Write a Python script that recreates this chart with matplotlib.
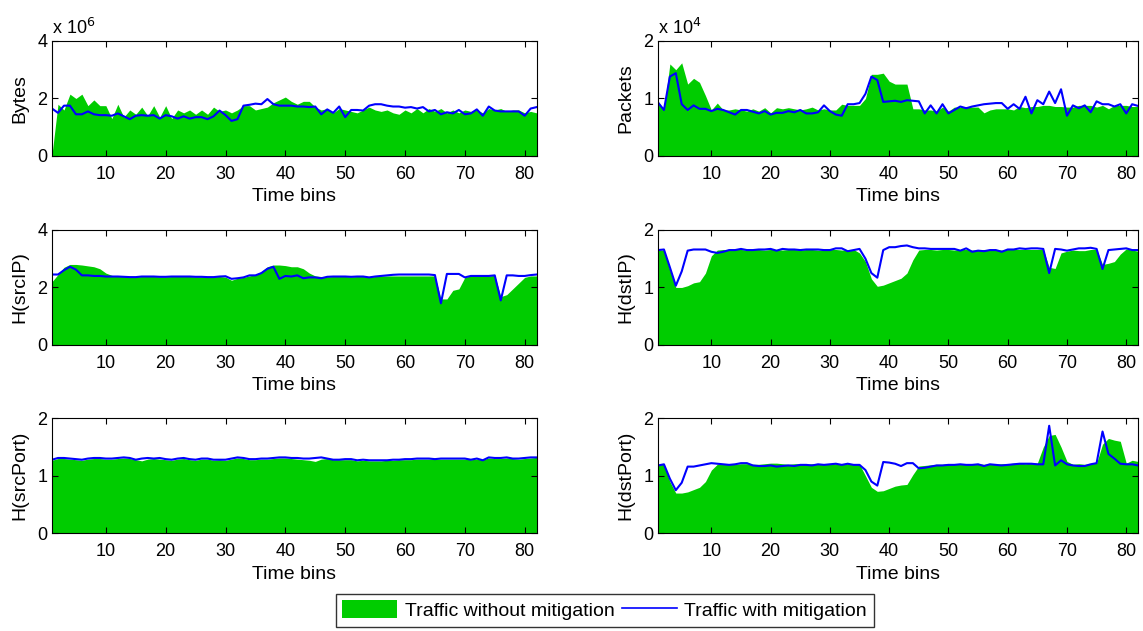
import numpy as np
import matplotlib
matplotlib.use("Agg")
import matplotlib.pyplot as plt
from matplotlib.patches import Patch
from matplotlib.lines import Line2D

plt.rcParams['font.family'] = ['Liberation Sans', 'DejaVu Sans']
plt.rcParams['font.size'] = 14

# values, one per time bin (1..82)
bytes_without = [0.05, 1.8, 1.6, 2.15, 2.0, 2.15, 1.75, 1.95, 1.75, 1.75,
                 1.3, 1.8, 1.35, 1.6, 1.45, 1.7, 1.4, 1.75, 1.35, 1.75,
                 1.3, 1.6, 1.5, 1.6, 1.45, 1.6, 1.45, 1.7, 1.55, 1.6,
                 1.5, 1.6, 1.75, 1.75, 1.6, 1.65, 1.7, 1.85, 1.95, 2.05,
                 1.9, 1.8, 1.9, 1.9, 1.7, 1.6, 1.65, 1.5, 1.65, 1.6,
                 1.55, 1.5, 1.6, 1.7, 1.6, 1.55, 1.6, 1.5, 1.45, 1.6,
                 1.5, 1.65, 1.5, 1.65, 1.55, 1.65, 1.5, 1.6, 1.5, 1.6,
                 1.55, 1.6, 1.5, 1.65, 1.6, 1.65, 1.55, 1.6, 1.6, 1.5,
                 1.55, 1.5]
bytes_with = [1.65, 1.5, 1.75, 1.75, 1.45, 1.45, 1.55, 1.45, 1.42, 1.42,
              1.4, 1.48, 1.38, 1.28, 1.4, 1.42, 1.4, 1.42, 1.3, 1.42,
              1.38, 1.3, 1.38, 1.3, 1.35, 1.35, 1.28, 1.38, 1.58, 1.42,
              1.22, 1.28, 1.75, 1.78, 1.82, 1.8, 1.98, 1.8, 1.75, 1.75,
              1.75, 1.72, 1.72, 1.7, 1.72, 1.45, 1.62, 1.5, 1.72, 1.35,
              1.6, 1.6, 1.58, 1.75, 1.8, 1.8, 1.75, 1.72, 1.72, 1.68,
              1.7, 1.65, 1.7, 1.55, 1.6, 1.45, 1.52, 1.48, 1.6, 1.45,
              1.48, 1.62, 1.4, 1.72, 1.58, 1.55, 1.55, 1.55, 1.55, 1.4,
              1.65, 1.7]

packets_without = [0.95, 0.8, 1.6, 1.5, 1.62, 1.25, 1.35, 1.28, 1.05, 0.8,
                   0.92, 0.8, 0.8, 0.82, 0.8, 0.78, 0.82, 0.78, 0.84, 0.75,
                   0.84, 0.82, 0.84, 0.82, 0.8, 0.82, 0.85, 0.8, 0.82, 0.8,
                   0.8, 0.9, 0.88, 0.88, 0.88, 1.0, 1.42, 1.42, 1.44, 1.3,
                   1.25, 1.25, 1.25, 0.82, 0.82, 0.8, 0.8, 0.78, 0.85, 0.78,
                   0.85, 0.85, 0.86, 0.85, 0.85, 0.75, 0.8, 0.82, 0.82, 0.82,
                   0.8, 0.86, 0.84, 0.86, 0.86, 0.88, 0.88, 0.86, 0.86, 0.85,
                   0.85, 0.88, 0.88, 0.88, 0.85, 0.88, 0.82, 0.88, 0.88, 0.88,
                   0.86, 0.86]
packets_with = [0.93, 0.8, 1.38, 1.44, 0.9, 0.8, 0.88, 0.82, 0.82, 0.78,
                0.82, 0.8, 0.76, 0.72, 0.8, 0.8, 0.77, 0.74, 0.78, 0.72,
                0.75, 0.75, 0.78, 0.76, 0.8, 0.74, 0.74, 0.76, 0.88, 0.78,
                0.72, 0.7, 0.9, 0.9, 0.92, 1.08, 1.38, 1.32, 0.94, 0.95,
                0.96, 0.94, 0.97, 0.96, 0.95, 0.74, 0.88, 0.74, 0.9, 0.74,
                0.8, 0.86, 0.83, 0.86, 0.88, 0.9, 0.91, 0.92, 0.92, 0.82,
                0.9, 0.82, 1.03, 0.74, 0.97, 0.9, 1.12, 0.92, 1.16, 0.7,
                0.88, 0.83, 0.88, 0.76, 0.95, 0.9, 0.9, 0.86, 0.9, 0.74,
                0.9, 0.87]

srcip_without = [2.2, 2.45, 2.7, 2.8, 2.8, 2.78, 2.75, 2.72, 2.65, 2.5,
                 2.42, 2.38, 2.38, 2.37, 2.37, 2.38, 2.38, 2.38, 2.37, 2.37,
                 2.38, 2.38, 2.38, 2.38, 2.37, 2.37, 2.37, 2.37, 2.38, 2.36,
                 2.25, 2.32, 2.35, 2.4, 2.45, 2.55, 2.72, 2.78, 2.78, 2.76,
                 2.72, 2.72, 2.65, 2.5, 2.4, 2.38, 2.37, 2.38, 2.38, 2.38,
                 2.37, 2.38, 2.38, 2.36, 2.38, 2.4, 2.4, 2.4, 2.4, 2.4,
                 2.4, 2.4, 2.4, 2.4, 2.4, 1.6, 1.6, 1.9, 1.95, 2.35,
                 2.4, 2.4, 2.4, 2.4, 2.42, 1.68, 1.75, 1.95, 2.15, 2.35,
                 2.4, 2.4]
srcip_with = [2.45, 2.45, 2.6, 2.72, 2.62, 2.42, 2.42, 2.4, 2.4, 2.38,
              2.38, 2.38, 2.37, 2.36, 2.36, 2.38, 2.38, 2.38, 2.37, 2.37,
              2.38, 2.38, 2.38, 2.38, 2.37, 2.37, 2.36, 2.36, 2.38, 2.39,
              2.3, 2.32, 2.35, 2.42, 2.42, 2.5, 2.65, 2.72, 2.3, 2.4,
              2.38, 2.42, 2.32, 2.35, 2.35, 2.32, 2.37, 2.38, 2.38, 2.38,
              2.37, 2.38, 2.38, 2.35, 2.38, 2.4, 2.42, 2.44, 2.45, 2.45,
              2.45, 2.45, 2.45, 2.45, 2.43, 1.45, 2.47, 2.47, 2.47, 2.35,
              2.4, 2.4, 2.4, 2.4, 2.42, 1.55, 2.42, 2.42, 2.4, 2.4,
              2.43, 2.45]

dstip_without = [1.65, 1.65, 1.3, 1.0, 1.0, 1.03, 1.08, 1.1, 1.25, 1.55,
                 1.65, 1.66, 1.65, 1.66, 1.66, 1.65, 1.66, 1.66, 1.65, 1.66,
                 1.66, 1.65, 1.66, 1.66, 1.65, 1.66, 1.66, 1.65, 1.65, 1.66,
                 1.66, 1.65, 1.65, 1.66, 1.6, 1.45, 1.15, 1.02, 1.04, 1.08,
                 1.12, 1.16, 1.25, 1.48, 1.65, 1.66, 1.66, 1.65, 1.66, 1.66,
                 1.65, 1.66, 1.66, 1.65, 1.65, 1.66, 1.66, 1.66, 1.65, 1.66,
                 1.66, 1.66, 1.66, 1.66, 1.66, 1.66, 1.35, 1.33, 1.6, 1.63,
                 1.65, 1.64, 1.64, 1.66, 1.66, 1.4, 1.42, 1.45, 1.58, 1.67,
                 1.65, 1.63]
dstip_with = [1.65, 1.66, 1.35, 1.03, 1.28, 1.64, 1.66, 1.66, 1.66, 1.62,
              1.6, 1.62, 1.65, 1.65, 1.67, 1.65, 1.65, 1.66, 1.66, 1.67,
              1.64, 1.67, 1.66, 1.66, 1.65, 1.66, 1.66, 1.66, 1.65, 1.65,
              1.68, 1.68, 1.63, 1.65, 1.67, 1.5, 1.25, 1.17, 1.65, 1.7,
              1.7, 1.72, 1.73, 1.7, 1.68, 1.68, 1.67, 1.67, 1.67, 1.67,
              1.67, 1.64, 1.68, 1.62, 1.64, 1.63, 1.65, 1.65, 1.62, 1.66,
              1.66, 1.68, 1.67, 1.68, 1.68, 1.67, 1.25, 1.67, 1.66, 1.64,
              1.66, 1.68, 1.68, 1.69, 1.67, 1.32, 1.65, 1.66, 1.67, 1.68,
              1.65, 1.65]

srcport_without = [1.27, 1.3, 1.3, 1.29, 1.28, 1.27, 1.29, 1.3, 1.3, 1.29,
                   1.29, 1.3, 1.31, 1.3, 1.28, 1.26, 1.29, 1.3, 1.29, 1.28,
                   1.27, 1.29, 1.3, 1.28, 1.27, 1.29, 1.29, 1.27, 1.28, 1.27,
                   1.29, 1.31, 1.3, 1.28, 1.28, 1.29, 1.29, 1.3, 1.31, 1.31,
                   1.3, 1.29, 1.28, 1.27, 1.25, 1.29, 1.3, 1.28, 1.28, 1.28,
                   1.28, 1.26, 1.27, 1.26, 1.26, 1.26, 1.27, 1.27, 1.28, 1.28,
                   1.28, 1.29, 1.29, 1.29, 1.29, 1.29, 1.29, 1.29, 1.29, 1.29,
                   1.28, 1.29, 1.28, 1.31, 1.3, 1.3, 1.31, 1.3, 1.29, 1.3,
                   1.31, 1.32]
srcport_with = [1.28, 1.31, 1.31, 1.3, 1.29, 1.28, 1.3, 1.31, 1.31, 1.3,
                1.3, 1.31, 1.32, 1.31, 1.28, 1.3, 1.31, 1.3, 1.31, 1.29,
                1.28, 1.3, 1.31, 1.29, 1.28, 1.3, 1.3, 1.28, 1.28, 1.28,
                1.3, 1.32, 1.31, 1.29, 1.29, 1.3, 1.3, 1.31, 1.32, 1.32,
                1.31, 1.31, 1.3, 1.3, 1.31, 1.32, 1.3, 1.28, 1.28, 1.29,
                1.29, 1.27, 1.28, 1.27, 1.27, 1.27, 1.27, 1.28, 1.28, 1.29,
                1.29, 1.3, 1.3, 1.3, 1.29, 1.3, 1.3, 1.3, 1.3, 1.3,
                1.28, 1.3, 1.27, 1.32, 1.31, 1.31, 1.32, 1.3, 1.3, 1.31,
                1.32, 1.32]

dstport_without = [1.2, 1.2, 0.9, 0.7, 0.7, 0.72, 0.76, 0.8, 0.9, 1.1,
                   1.2, 1.21, 1.21, 1.2, 1.21, 1.21, 1.2, 1.2, 1.21, 1.22,
                   1.22, 1.21, 1.2, 1.21, 1.21, 1.2, 1.21, 1.21, 1.2, 1.21,
                   1.21, 1.2, 1.21, 1.21, 1.2, 1.0, 0.8, 0.73, 0.74, 0.78,
                   0.82, 0.84, 0.85, 1.02, 1.17, 1.18, 1.19, 1.2, 1.2, 1.21,
                   1.2, 1.2, 1.21, 1.2, 1.21, 1.2, 1.21, 1.2, 1.21, 1.21,
                   1.22, 1.22, 1.21, 1.22, 1.22, 1.5, 1.7, 1.72, 1.5, 1.25,
                   1.2, 1.21, 1.2, 1.21, 1.22, 1.55, 1.65, 1.62, 1.6, 1.22,
                   1.27, 1.25]
dstport_with = [1.18, 1.2, 0.95, 0.75, 0.88, 1.16, 1.16, 1.18, 1.2, 1.22,
                1.21, 1.2, 1.19, 1.2, 1.22, 1.22, 1.18, 1.17, 1.17, 1.18,
                1.16, 1.17, 1.18, 1.17, 1.19, 1.19, 1.18, 1.2, 1.19, 1.2,
                1.21, 1.19, 1.21, 1.19, 1.19, 1.1, 0.9, 0.83, 1.24, 1.23,
                1.21, 1.17, 1.22, 1.22, 1.13, 1.14, 1.16, 1.18, 1.18, 1.19,
                1.19, 1.2, 1.19, 1.19, 1.2, 1.17, 1.2, 1.19, 1.18, 1.19,
                1.2, 1.21, 1.21, 1.21, 1.2, 1.2, 1.87, 1.18, 1.27, 1.2,
                1.18, 1.17, 1.17, 1.2, 1.22, 1.77, 1.38, 1.3, 1.21, 1.2,
                1.2, 1.18]

panels = [
    ("Bytes", bytes_without, bytes_with, [0, 2, 4], r"x 10$^{6}$"),
    ("Packets", packets_without, packets_with, [0, 1, 2], r"x 10$^{4}$"),
    ("H(srcIP)", srcip_without, srcip_with, [0, 2, 4], None),
    ("H(dstIP)", dstip_without, dstip_with, [0, 1, 2], None),
    ("H(srcPort)", srcport_without, srcport_with, [0, 1, 2], None),
    ("H(dstPort)", dstport_without, dstport_with, [0, 1, 2], None),
]

green = "#00cc00"
blue = "#0000ff"

fig = plt.figure(figsize=(11.43, 6.31), dpi=100)
lefts = [0.0455, 0.5757]
widths = [0.424, 0.420]
bottoms = [0.7528, 0.4533, 0.1548]
height = 0.1823

for i, (name, without, with_m, yt, scale) in enumerate(panels):
    row, col = divmod(i, 2)
    ax = fig.add_axes([lefts[col], bottoms[row], widths[col], height])
    t = np.arange(1, len(without) + 1)
    ax.fill_between(t, 0, without, color=green, linewidth=0)
    ax.plot(np.arange(1, len(with_m) + 1), with_m, color=blue, linewidth=1.5)
    ax.set_xlim(1, 82)
    ax.set_ylim(yt[0], yt[-1])
    ax.set_yticks(yt)
    ax.set_xticks(range(10, 81, 10))
    ax.tick_params(direction="in", top=True, right=True, length=4, labelsize=13)
    ax.tick_params(axis="x", pad=7)
    ax.set_xlabel("Time bins", labelpad=4)
    ax.set_ylabel(name, labelpad=6)
    if scale:
        ax.text(0.0, 1.03, scale, transform=ax.transAxes, ha="left",
                va="bottom", fontsize=13)

handles = [Patch(facecolor=green, edgecolor="none"),
           Line2D([0], [0], color=blue, linewidth=1.2)]
fig.legend(handles, ["Traffic without mitigation", "Traffic with mitigation"],
           ncol=2, loc="center", bbox_to_anchor=(0.529, 0.033), fontsize=14,
           frameon=True, fancybox=False, edgecolor="black",
           handlelength=2.8, handleheight=1.0, columnspacing=0.4,
           handletextpad=0.4, borderpad=0.35)

fig.savefig("out.png", dpi=100)
